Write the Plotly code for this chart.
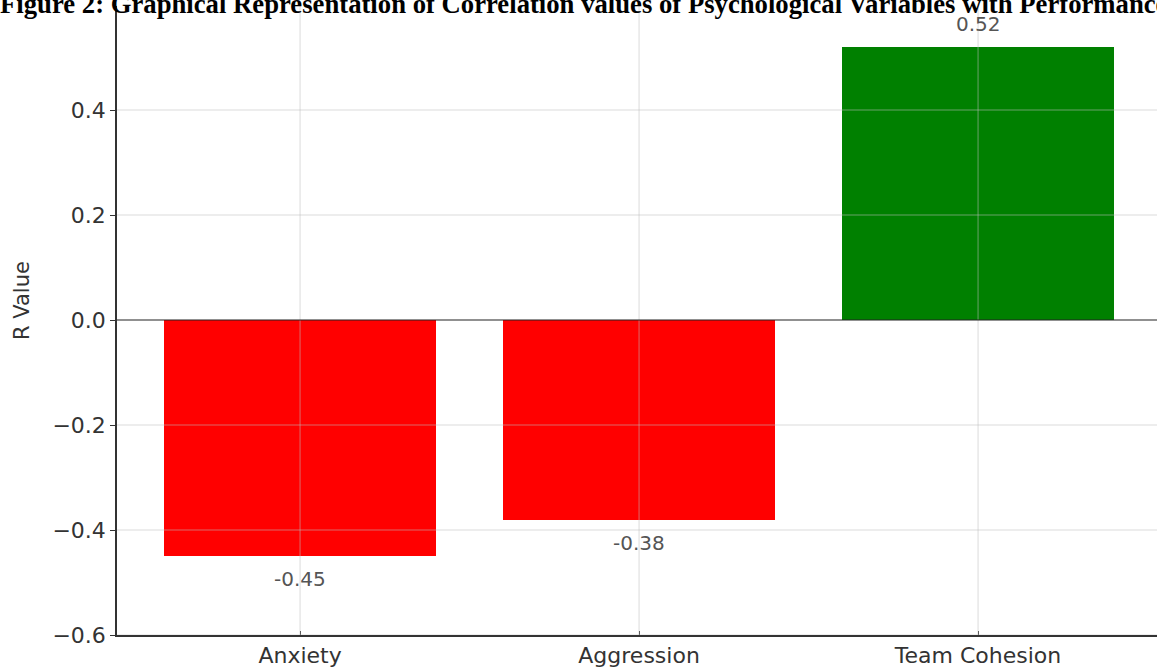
import plotly.graph_objects as go

# Correlation (R) of each psychological variable with performance
variables = ["Anxiety", "Aggression", "Team Cohesion"]
r_values = [-0.45, -0.38, 0.52]
bar_colors = ["#ff0000", "#ff0000", "#008000"]
y_ticks = [-0.6, -0.4, -0.2, 0.0, 0.2, 0.4, 0.6]
title_text = ("<b>Figure 2: Graphical Representation of Correlation values of "
              "Psychological Variables with Performance</b>")

W, H = 1157, 668
L, R, T, B = 117, 0, 0, 33
plot_w = W - L - R
plot_h = H - T - B

x_pos = list(range(len(variables)))
x_range = [-0.54, -0.54 + plot_w / 339.0]
y_range = [-0.6, 0.6 + 5 / 525.0]

fig = go.Figure()
fig.add_trace(go.Bar(
    x=x_pos, y=r_values, width=0.8,
    marker=dict(color=bar_colors, line=dict(width=0)),
    hoverinfo="skip", showlegend=False,
))

# value labels above positive bars / below negative bars
for xi, v in zip(x_pos, r_values):
    fig.add_annotation(
        x=xi, y=v, xref="x", yref="y", text=f"{v:.2f}", showarrow=False,
        yanchor="bottom" if v >= 0 else "top", yshift=9 if v >= 0 else -9,
        font=dict(family="DejaVu Sans", size=20, color="#555555"),
    )

# grid drawn over the bars
grid_color = "rgba(190,190,190,0.55)"
for xi in x_pos:
    fig.add_shape(type="line", xref="x", yref="y", x0=xi, x1=xi,
                  y0=y_range[0], y1=y_range[1], layer="above",
                  line=dict(color=grid_color, width=1))
for yt in y_ticks:
    if yt == 0:
        continue
    fig.add_shape(type="line", xref="x", yref="y", x0=x_range[0], x1=x_range[1],
                  y0=yt, y1=yt, layer="above",
                  line=dict(color=grid_color, width=1))

# horizontal reference line at zero
fig.add_shape(type="line", xref="x", yref="y", x0=x_range[0], x1=x_range[1],
              y0=0, y1=0, layer="above", line=dict(color="#222222", width=1.2))

# white caption band across the top
fig.add_shape(type="rect", xref="paper", yref="paper",
              x0=-L / plot_w, x1=1.0, y0=1 - 6 / plot_h, y1=1.0,
              fillcolor="white", line=dict(width=0), layer="above")

fig.add_annotation(
    xref="paper", yref="paper", x=-(L + 2) / plot_w, y=1 - 21 / plot_h,
    xanchor="left", yanchor="bottom", text=title_text, showarrow=False,
    font=dict(family="Liberation Serif", size=26.7, color="#000000"),
)

# y-axis title
fig.add_annotation(
    xref="paper", yref="paper", x=-(L - 22) / plot_w, y=1 - 301 / plot_h,
    xanchor="center", yanchor="middle", text="R Value", textangle=-90,
    showarrow=False, font=dict(family="DejaVu Sans", size=21, color="#333333"),
)

tick_font = dict(family="DejaVu Sans", size=22, color="#333333")
fig.update_xaxes(
    range=x_range, tickvals=x_pos, ticktext=variables, showgrid=False,
    zeroline=False, showline=True, linecolor="#333333", linewidth=1.5,
    ticks="inside", ticklen=4, tickcolor="#333333", tickfont=tick_font,
)
fig.update_yaxes(
    range=y_range, tickvals=y_ticks,
    ticktext=[f"{t:.1f}".replace("-", "\u2212") for t in y_ticks],
    showgrid=False, zeroline=False, showline=True, linecolor="#333333",
    linewidth=1.5, ticks="outside", ticklen=5, tickcolor="#333333",
    tickfont=tick_font,
)

fig.update_layout(
    width=W, height=H, margin=dict(l=L, r=R, t=T, b=B, autoexpand=False),
    plot_bgcolor="white", paper_bgcolor="white", bargap=0,
)

fig.write_html("out.html")
